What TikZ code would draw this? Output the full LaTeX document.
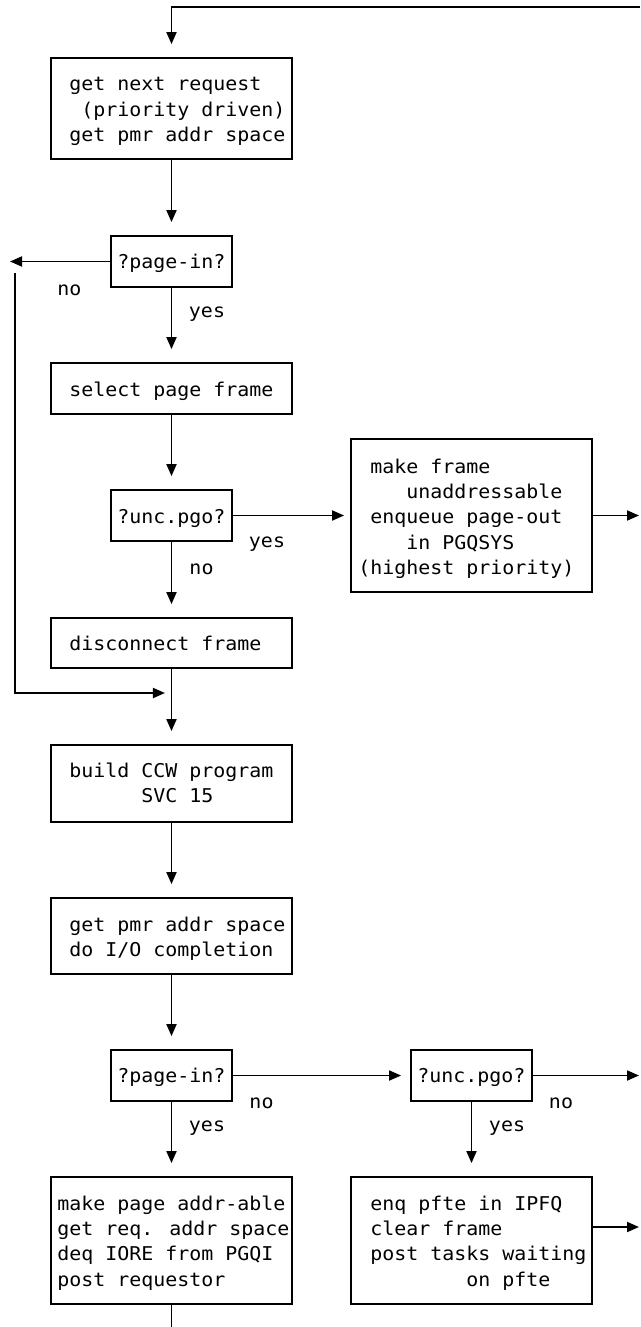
\documentclass[tikz,border=0pt]{standalone}
\usepackage{fontspec}
\newfontfamily\dmono[FakeStretch=1.05]{DejaVu Sans Mono}
\usetikzlibrary{arrows.meta,fit}
\newcommand\lns[1]{\begin{tabular}[t]{@{}l@{}}#1\end{tabular}}
\begin{document}
\begin{tikzpicture}[x=0.75pt,y=-0.75pt,
  lw/.style={line width=1.35pt},
  box/.style={draw, lw, inner sep=0pt},
  txt/.style={anchor=base west, inner sep=0pt, font=\dmono\fontsize{14.25pt}{19pt}\selectfont},
  lbl/.style={anchor=base, inner sep=0pt, font=\dmono\fontsize{14.25pt}{19pt}\selectfont},
  arr/.style={lw, -{Triangle[length=9pt,width=7.5pt]}},
  vgap/.style={shorten >=9.75pt},
]
\useasboundingbox (0,0) rectangle (640,1327);

% boxes
\node[box, fit={(51,58) (292,159)}] (b1) {};
\node[box, fit={(111,236) (232,287)}] (pin1) {};
\node[box, fit={(51,363) (292,414)}] (sel) {};
\node[box, fit={(111,490) (232,541)}] (unc1) {};
\node[box, fit={(351,439) (592,592)}] (mf) {};
\node[box, fit={(51,618) (292,668)}] (disc) {};
\node[box, fit={(51,745) (292,822)}] (ccw) {};
\node[box, fit={(51,898) (292,974)}] (pmr) {};
\node[box, fit={(111,1050) (232,1101)}] (pin2) {};
\node[box, fit={(51,1177) (292,1304)}] (mp) {};
\node[box, fit={(411,1050) (532,1101)}] (unc2) {};
\node[box, fit={(351,1177) (592,1304)}] (enq) {};

% texts
\node[txt] (tb1) at (57,91) {\lns{~get next request\\~~(priority driven)\\~get pmr addr space}};
\node[txt] (tpin1) at (117,268) {\lns{?page-in?}};
\node[txt] (tsel) at (57,396) {\lns{~select page frame}};
\node[txt] (tunc1) at (117,523) {\lns{?unc.pgo?}};
\node[txt] (tmf) at (358,473) {\lns{~make frame\\~~~~unaddressable\\~enqueue page-out\\~~~~in PGQSYS\\(highest priority)}};
\node[txt] (tdisc) at (57,650) {\lns{~disconnect frame}};
\node[txt] (tccw) at (57,777) {\lns{~build CCW program\\~~~~~~~SVC 15}};
\node[txt] (tpmr) at (57,931) {\lns{~get pmr addr space\\~do I/O completion}};
\node[txt] (tpin2) at (117,1082) {\lns{?page-in?}};
\node[txt] (tmp) at (57,1210) {\lns{make page addr-able\\get req. addr space\\deq IORE from PGQI\\post requestor}};
\node[txt] (tunc2) at (417,1082) {\lns{?unc.pgo?}};
\node[txt] (tenq) at (358,1210) {\lns{~enq pfte in IPFQ\\~clear frame\\~post tasks waiting\\~~~~~~~~~on pfte}};

% labels
\node[lbl] (l1) at (69.5,295) {no};
\node[lbl] (l2) at (207,317) {yes};
\node[lbl] (l3) at (267,547) {yes};
\node[lbl] (l4) at (201.5,574) {no};
\node[lbl] (l5) at (261.5,1108) {no};
\node[lbl] (l6) at (207,1131) {yes};
\node[lbl] (l7) at (561,1108) {no};
\node[lbl] (l8) at (507,1131) {yes};

% free ends
\coordinate (topR) at (640,7);
\coordinate (noL) at (10,261.5);
\coordinate (retTop) at (15,273);
\coordinate (join) at (171.5,693);
\coordinate (mfOut) at (639,515.5);
\coordinate (unc2Out) at (639,1075.5);
\coordinate (enqOut) at (639,1227);
\coordinate (mpOut) at (171.5,1327);

% connectors
\draw[arr, vgap] (topR) -| (b1);
\draw[arr, vgap] (b1) -- (pin1);
\draw[arr] (pin1) -- (noL);
\draw[arr, shorten >=4.9pt] (retTop) |- (join);
\draw[arr, vgap] (pin1) -- (sel);
\draw[arr, vgap] (sel) -- (unc1);
\draw[arr, shorten >=4.5pt] (unc1) -- (mf);
\draw[arr] (mf) -- (mfOut);
\draw[arr, vgap] (unc1) -- (disc);
\draw[arr, vgap] (disc) -- (ccw);
\draw[arr, vgap] (ccw) -- (pmr);
\draw[arr, vgap] (pmr) -- (pin2);
\draw[arr, shorten >=6.75pt] (pin2) -- (unc2);
\draw[arr] (unc2) -- (unc2Out);
\draw[arr, vgap] (pin2) -- (mp);
\draw[arr, vgap] (unc2) -- (enq);
\draw[arr] (enqOut -| enq.east) -- (enqOut);
\draw[lw] (mp) -- (mpOut);
\end{tikzpicture}
\end{document}
